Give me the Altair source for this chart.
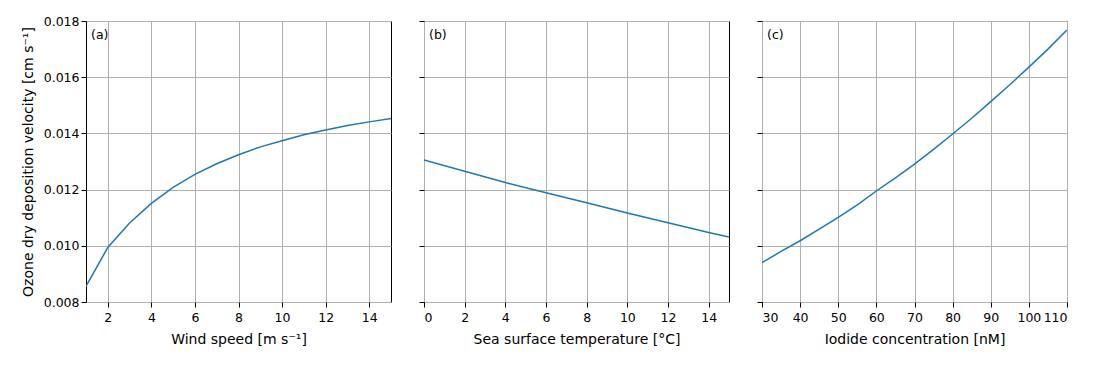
import altair as alt
import pandas as pd

# Panel (a): wind speed
wind = list(range(1, 16))
vd_wind = [0.00856, 0.00994, 0.01081, 0.01151, 0.01208, 0.01254, 0.01292, 0.01324,
           0.01352, 0.01374, 0.01395, 0.01412, 0.01428, 0.01441, 0.01453]

# Panel (b): sea surface temperature
sst = [0, 2, 4, 6, 8, 10, 12, 14, 15]
vd_sst = [0.01305, 0.01265, 0.01225, 0.01189, 0.01153, 0.01117, 0.01082, 0.01047, 0.01031]

# Panel (c): iodide concentration
iodide = [30, 35, 40, 45, 50, 55, 60, 65, 70, 75, 80, 85, 90, 95, 100, 105, 110]
vd_iod = [0.00940, 0.00980, 0.01018, 0.01059, 0.01101, 0.01146, 0.01195, 0.01242,
          0.01291, 0.01343, 0.01398, 0.01454, 0.01513, 0.01573, 0.01636, 0.01700, 0.01768]

y_ticks = [0.008, 0.010, 0.012, 0.014, 0.016, 0.018]
panel_labels = ["(a)", "(b)", "(c)"]

W, H = 305, 281
FONT = "DejaVu Sans"


def panel(xs, ys, xtitle, xdomain, xvalues, label, show_y):
    df = pd.DataFrame({"x": xs, "y": ys})
    yaxis = alt.Axis(values=y_ticks, format=".3f", grid=True,
                     title="Ozone dry deposition velocity [cm s⁻¹]" if show_y else None,
                     labels=show_y, titlePadding=8)
    line = alt.Chart(df).mark_line(color="#1f77b4", strokeWidth=1.5, clip=True).encode(
        x=alt.X("x:Q", scale=alt.Scale(domain=xdomain, nice=False, zero=False),
                axis=alt.Axis(values=xvalues, title=xtitle, grid=True, titlePadding=9,
                              labelPadding=4)),
        y=alt.Y("y:Q", scale=alt.Scale(domain=[0.008, 0.018], nice=False, zero=False),
                axis=yaxis),
    )
    txt = alt.Chart(pd.DataFrame({"t": [label]})).mark_text(
        align="left", baseline="middle", font=FONT, fontSize=12.5, color="black"
    ).encode(x=alt.value(5), y=alt.value(14), text="t:N")
    return alt.layer(line, txt).properties(width=W, height=H)


a = panel(wind, vd_wind, "Wind speed [m s⁻¹]", [1, 15], [2, 4, 6, 8, 10, 12, 14],
          panel_labels[0], True)
b = panel(sst, vd_sst, "Sea surface temperature [°C]", [0, 15], [0, 2, 4, 6, 8, 10, 12, 14],
          panel_labels[1], False)
c = panel(iodide, vd_iod, "Iodide concentration [nM]", [30, 110],
          [30, 40, 50, 60, 70, 80, 90, 100, 110], panel_labels[2], False)

chart = alt.hconcat(a, b, c, spacing=33, bounds="flush").properties(
    padding={"left": 12, "top": 6, "right": 5, "bottom": 5}
).configure_axis(
    labelFont=FONT, labelFontSize=12.5, labelColor="black",
    titleFont=FONT, titleFontSize=14, titleFontWeight="normal", titleColor="black",
    tickColor="black", tickSize=5, tickWidth=1,
    gridColor="#b0b0b0", gridWidth=1, gridOpacity=1, domain=False,
).configure_view(stroke="black", strokeWidth=1)

chart.save("out.html", embed_options={"renderer": "svg", "actions": False})
